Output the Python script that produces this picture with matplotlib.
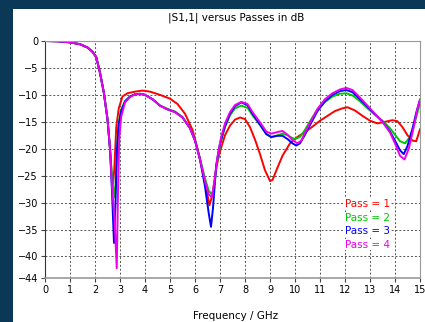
import matplotlib
matplotlib.use('Agg')
import matplotlib.pyplot as plt
from matplotlib.patches import Rectangle

# shared low-frequency part (all passes nearly identical)
f_common = [0, 0.5, 1.0, 1.4, 1.7, 1.9, 2.05, 2.2, 2.35, 2.5, 2.6]
db_common = [0, -0.05, -0.25, -0.6, -1.2, -2.0, -3.0, -5.9, -9.5, -14.5, -20]

# Pass 1 (red)
f_p1 = f_common + [2.67, 2.72, 2.77, 2.85, 2.95, 3.1, 3.3, 3.6, 3.9, 4.2, 4.6, 5.0, 5.3,
                   5.6, 5.9, 6.1, 6.3, 6.45, 6.58, 6.7, 6.85, 7.0, 7.2, 7.4, 7.6, 7.8,
                   8.0, 8.2, 8.4, 8.6, 8.8, 9.0, 9.1, 9.3, 9.5, 9.8, 10.1, 10.4, 10.7,
                   11.0, 11.3, 11.6, 11.9, 12.1, 12.4, 12.7, 13.0, 13.3, 13.6, 13.9,
                   14.1, 14.3, 14.5, 14.7, 14.85, 15.0]
db_p1 = db_common + [-25, -26.5, -24, -16, -12.5, -10.3, -9.7, -9.4, -9.2, -9.4, -10.0,
                     -10.7, -11.7, -13.5, -16.5, -20, -24, -27.5, -30.5, -28.5, -23.5,
                     -20.5, -17.5, -15.7, -14.6, -14.2, -14.5, -16, -18.3, -21, -24,
                     -26, -25.8, -23.5, -21.3, -19, -17.8, -16.9, -15.9, -14.8, -13.9,
                     -13.0, -12.5, -12.3, -12.9, -13.9, -14.8, -15.3, -15.0, -14.7,
                     -14.9, -16.0, -17.5, -18.5, -18.6, -16.4]

# Pass 2 (green)
f_p2 = f_common + [2.68, 2.75, 2.8, 2.86, 2.93, 3.02, 3.2, 3.4, 3.6, 3.8, 4.0, 4.3, 4.6,
                   4.9, 5.2, 5.5, 5.8, 6.0, 6.2, 6.4, 6.55, 6.68, 6.78, 6.9, 7.05, 7.2,
                   7.4, 7.6, 7.85, 8.1, 8.3, 8.6, 8.85, 9.05, 9.3, 9.5, 9.7, 9.85,
                   10.0, 10.2, 10.4, 10.6, 10.9, 11.2, 11.5, 11.8, 12.05, 12.3, 12.6,
                   12.9, 13.2, 13.5, 13.8, 14.0, 14.2, 14.4, 14.6, 14.8, 15.0]
db_p2 = db_common + [-25, -28, -29, -22, -16, -13, -11.2, -10.3, -9.9, -9.8, -10.0,
                     -10.8, -12.0, -12.6, -13.1, -14.1, -16.1, -18.4, -21.8, -25.5,
                     -27.8, -28.5, -26.5, -22, -18.5, -16, -13.8, -12.5, -12.0, -12.4,
                     -13.8, -15.6, -17.2, -17.9, -17.5, -17.2, -17.5, -17.9, -18.2,
                     -17.8, -16.5, -14.9, -12.7, -11.3, -10.3, -9.8, -9.7, -10.1,
                     -11.2, -12.5, -13.7, -14.8, -16.2, -17.4, -18.6, -19.0, -17.8,
                     -15.0, -11.5]

# Pass 3 (blue)
f_p3 = f_common + [2.68, 2.76, 2.82, 2.88, 2.95, 3.05, 3.2, 3.4, 3.6, 3.8, 4.0, 4.3, 4.6,
                   4.9, 5.2, 5.5, 5.8, 6.0, 6.2, 6.4, 6.55, 6.64, 6.72, 6.85, 7.0, 7.2,
                   7.4, 7.6, 7.85, 8.1, 8.3, 8.6, 8.85, 9.05, 9.3, 9.5, 9.7, 9.9,
                   10.05, 10.2, 10.4, 10.6, 10.9, 11.2, 11.5, 11.8, 12.05, 12.3, 12.6,
                   12.9, 13.2, 13.5, 13.8, 14.0, 14.2, 14.35, 14.5, 14.7, 14.85, 15.0]
db_p3 = db_common + [-28, -37.5, -30, -20, -15.5, -13, -11.2, -10.3, -9.9, -9.8, -10.0,
                     -10.8, -12.0, -12.7, -13.2, -14.2, -16.2, -18.5, -22, -27, -32,
                     -34.5, -31, -23, -19, -15.8, -13.5, -12.1, -11.4, -11.9, -13.5,
                     -15.5, -17.3, -17.8, -17.6, -17.6, -18.2, -19.0, -19.4, -19.0,
                     -17.4, -15.6, -13.0, -11.2, -10.0, -9.3, -9.1, -9.5, -10.8, -12.2,
                     -13.6, -15.0, -16.8, -18.5, -20.3, -21.0, -19.5, -16.3, -13.3,
                     -10.9]

# Pass 4 (magenta)
f_p4 = f_common + [2.68, 2.78, 2.87, 2.92, 2.97, 3.05, 3.2, 3.4, 3.6, 3.8, 4.0, 4.3, 4.6,
                   4.9, 5.2, 5.5, 5.8, 6.0, 6.2, 6.4, 6.55, 6.68, 6.78, 6.9, 7.05, 7.2,
                   7.4, 7.6, 7.85, 8.1, 8.3, 8.6, 8.85, 9.05, 9.3, 9.5, 9.7, 9.9,
                   10.1, 10.25, 10.4, 10.6, 10.9, 11.2, 11.5, 11.8, 12.05, 12.3, 12.6,
                   12.9, 13.2, 13.5, 13.8, 14.0, 14.2, 14.38, 14.55, 14.75, 14.9, 15.0]
db_p4 = db_common + [-27, -33, -42.2, -28, -18, -14, -11.4, -10.4, -9.9, -9.8, -10.0,
                     -10.8, -12.0, -12.7, -13.2, -14.2, -16.2, -18.5, -22, -26, -28.5,
                     -29, -26, -21.5, -17.8, -15.3, -13.2, -11.9, -11.3, -11.7, -13.2,
                     -15.1, -16.8, -17.2, -16.9, -16.7, -17.4, -18.4, -19.0, -18.5,
                     -17.0, -15.2, -12.6, -10.8, -9.7, -9.0, -8.7, -9.1, -10.5, -12.0,
                     -13.5, -15.0, -17.0, -19.0, -21.3, -22.0, -20.0, -16.0, -12.5,
                     -10.9]

passes = ['Pass = 1', 'Pass = 2', 'Pass = 3', 'Pass = 4']
colors = ['#ff0000', '#00c800', '#0000ff', '#ee00ee']
series = [(f_p1, db_p1), (f_p2, db_p2), (f_p3, db_p3), (f_p4, db_p4)]

x_ticks = list(range(0, 16))
y_ticks = [0, -5, -10, -15, -20, -25, -30, -35, -40, -44]

fig = plt.figure(figsize=(4.25, 3.22), dpi=100)
fig.patch.set_facecolor('#0c3858')
# white panel behind the chart
fig.patches.append(Rectangle((13 / 425, 0), 1, 1 - 9 / 322, transform=fig.transFigure,
                             facecolor='white', edgecolor='none', zorder=-10))

ax = fig.add_axes([45 / 425, 1 - 278 / 322, 375 / 425, 237 / 322])
ax.set_zorder(5)
ax.set_facecolor('white')

for (f, db), c in zip(series, colors):
    ax.plot(f, db, color=c, lw=1.4, solid_joinstyle='round')

ax.set_xlim(0, 15)
ax.set_ylim(-44, 0)
ax.set_xticks(x_ticks)
ax.set_yticks(y_ticks)
ax.tick_params(labelsize=7, length=3, width=0.8, color='#444444', pad=2)
ax.grid(True, color='#555555', linestyle=(0, (2, 2)), linewidth=0.7)
for side in ['top', 'right']:
    ax.spines[side].set_color('#999999')
    ax.spines[side].set_linewidth(0.8)
ax.spines['left'].set_color('#333333')
ax.spines['bottom'].set_color('#999999')
ax.spines['bottom'].set_linewidth(1.2)

# text legend, coloured labels on a white box
for i, (name, c) in enumerate(zip(passes, colors)):
    ax.text(13.8, -30.3 - i * 2.5, name, color=c, fontsize=7.5, ha='right', va='center',
            zorder=4, bbox=dict(facecolor='white', edgecolor='none', pad=0.6))

fig.text(0.555, 1 - 18 / 322, '|S1,1| versus Passes in dB', fontsize=7.5,
         ha='center', va='center')
fig.text(0.555, 1 - 316 / 322, 'Frequency / GHz', fontsize=7.5, ha='center', va='center')

fig.savefig('out.png', dpi=100, facecolor=fig.get_facecolor())
